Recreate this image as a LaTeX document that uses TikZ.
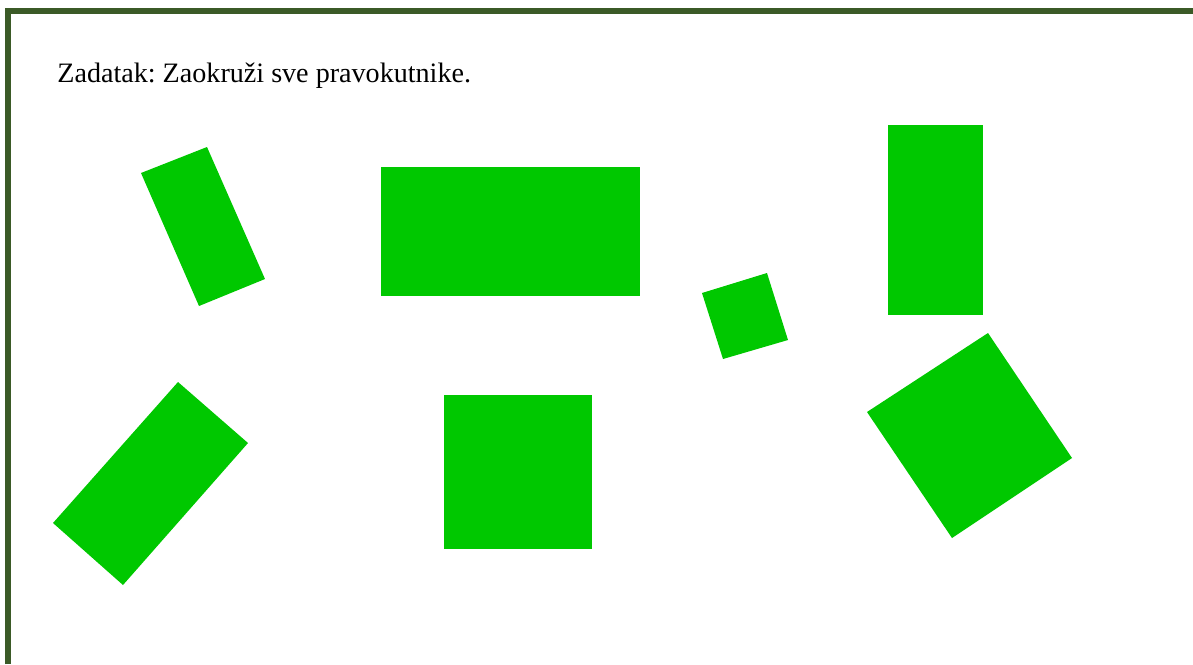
\documentclass[tikz,border=0pt]{standalone}
\usepackage{fontspec}
\setmainfont{Liberation Serif}
\usepackage{tikz}
\usetikzlibrary{positioning}
\definecolor{taskframe}{HTML}{3B5A27}
\definecolor{taskgreen}{HTML}{00C800}
\frenchspacing

\begin{document}
\begin{tikzpicture}[x=0.02cm,y=-0.02cm,line join=miter,
  greenbox/.style={fill=taskgreen},
  frameline/.style={draw=taskframe,line width=0.12cm}]
\path[use as bounding box] (0,0) rectangle (1193,664);
\fill[white] (0,0) rectangle (1193,664);
% okvir: gore i lijevo
\draw[frameline] (8,664)--(8,11)--(1193,11);
\node[anchor=base west,inner sep=0pt,font=\fontsize{16}{19}\selectfont] (task) at (57,82)
  {Zadatak: Zaokruži sve pravokutnike.};

% gornji red
\fill[greenbox] (141,173)--(207,147)--(265,279)--(199,306)--cycle;
\fill[greenbox] (381,167) rectangle (640,296);
\fill[greenbox] (702,293)--(767,273)--(788,340)--(723,359)--cycle;
\fill[greenbox] (888,125) rectangle (983,315);
% donji red
\fill[greenbox] (178,382)--(248,443)--(123,585)--(53,523)--cycle;
\fill[greenbox] (444,395) rectangle (592,549);
\fill[greenbox] (988,333)--(1072,458)--(952,538)--(867,412)--cycle;
\end{tikzpicture}
\end{document}
